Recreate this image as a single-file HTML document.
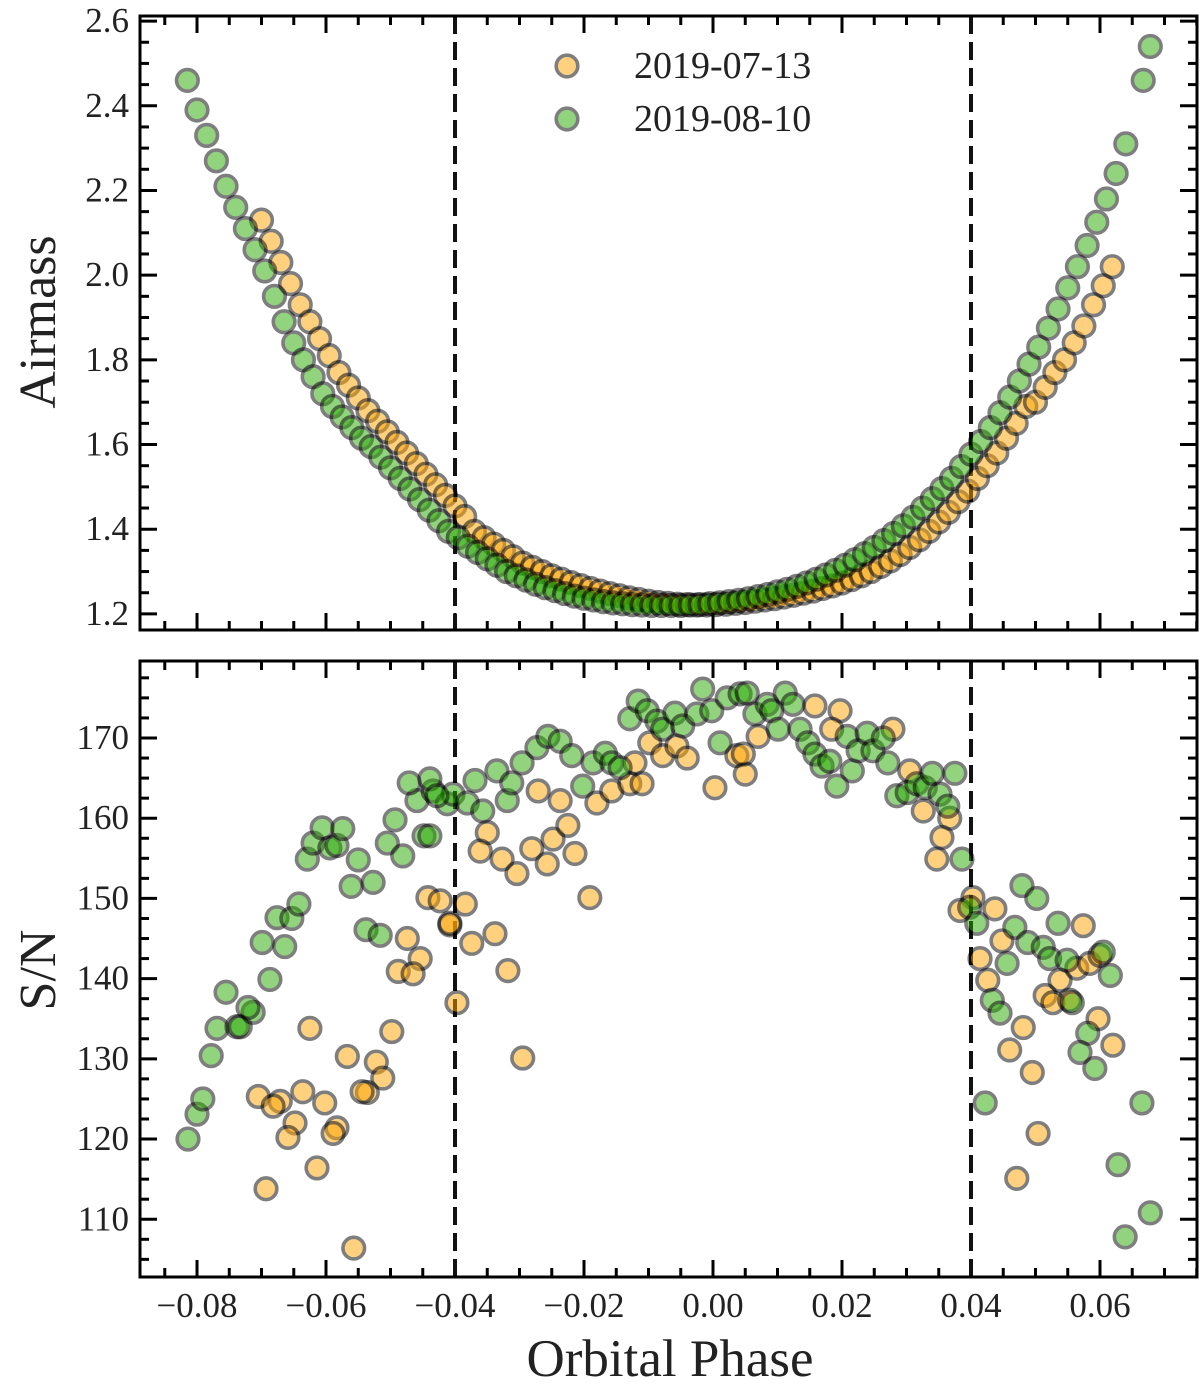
<!DOCTYPE html>
<html><head><meta charset="utf-8"><style>
html,body{margin:0;padding:0;background:#fff;}
svg{display:block;font-family:"Liberation Serif",serif;}
</style></head><body>
<svg id="chart" width="1200" height="1392" viewBox="0 0 1200 1392" xmlns="http://www.w3.org/2000/svg"></svg>
<script>
// ---------- data ----------
const greenAirPhase = [-0.0815,-0.0800,-0.0785,-0.0770,-0.0755,-0.0740,-0.0725,-0.0710,-0.0695,-0.0680,-0.0665,-0.0650,-0.0635,-0.0620,-0.0605,-0.0590,-0.0575,-0.0560,-0.0545,-0.0530,-0.0515,-0.0500,-0.0485,-0.0470,-0.0455,-0.0440,-0.0425,-0.0410,-0.0395,-0.0380,-0.0365,-0.0350,-0.0335,-0.0320,-0.0305,-0.0290,-0.0275,-0.0260,-0.0245,-0.0230,-0.0215,-0.0200,-0.0185,-0.0170,-0.0155,-0.0140,-0.0125,-0.0110,-0.0095,-0.0080,-0.0065,-0.0050,-0.0035,-0.0020,-0.0005,0.0010,0.0025,0.0040,0.0055,0.0070,0.0085,0.0100,0.0115,0.0130,0.0145,0.0160,0.0175,0.0190,0.0205,0.0220,0.0235,0.0250,0.0265,0.0280,0.0295,0.0310,0.0325,0.0340,0.0355,0.0370,0.0385,0.0400,0.0415,0.0430,0.0445,0.0460,0.0475,0.0490,0.0505,0.0520,0.0535,0.0550,0.0565,0.0580,0.0595,0.0610,0.0625,0.0640,0.0667,0.0678];
const greenAirmass = [2.46,2.39,2.33,2.27,2.21,2.16,2.11,2.06,2.01,1.95,1.89,1.84,1.80,1.76,1.72,1.69,1.665,1.64,1.615,1.595,1.57,1.545,1.52,1.495,1.47,1.445,1.42,1.395,1.38,1.36,1.345,1.33,1.315,1.30,1.29,1.28,1.27,1.262,1.255,1.248,1.242,1.237,1.233,1.229,1.226,1.224,1.222,1.221,1.22,1.22,1.22,1.22,1.221,1.222,1.224,1.226,1.229,1.232,1.236,1.241,1.246,1.252,1.258,1.265,1.273,1.282,1.292,1.303,1.315,1.328,1.342,1.357,1.373,1.39,1.408,1.428,1.45,1.472,1.496,1.52,1.548,1.577,1.607,1.64,1.675,1.712,1.75,1.79,1.83,1.875,1.92,1.97,2.02,2.07,2.125,2.18,2.24,2.31,2.46,2.54];
const orangeAirPhase = [-0.0700,-0.0685,-0.0670,-0.0655,-0.0640,-0.0625,-0.0610,-0.0595,-0.0580,-0.0565,-0.0550,-0.0535,-0.0520,-0.0505,-0.0490,-0.0475,-0.0460,-0.0445,-0.0430,-0.0415,-0.0400,-0.0385,-0.0370,-0.0355,-0.0340,-0.0325,-0.0310,-0.0295,-0.0280,-0.0265,-0.0250,-0.0235,-0.0220,-0.0205,-0.0190,-0.0175,-0.0160,-0.0145,-0.0130,-0.0115,-0.0100,-0.0085,-0.0070,-0.0055,-0.0040,-0.0025,-0.0010,0.0005,0.0020,0.0035,0.0050,0.0065,0.0080,0.0095,0.0110,0.0125,0.0140,0.0155,0.0170,0.0185,0.0200,0.0215,0.0230,0.0245,0.0260,0.0275,0.0290,0.0305,0.0320,0.0335,0.0350,0.0365,0.0380,0.0395,0.0410,0.0425,0.0440,0.0455,0.0470,0.0485,0.0500,0.0515,0.0530,0.0545,0.0560,0.0575,0.0590,0.0605,0.0619];
const orangeAirmass = [2.13,2.08,2.03,1.98,1.93,1.89,1.85,1.81,1.77,1.74,1.71,1.68,1.655,1.63,1.605,1.58,1.555,1.53,1.505,1.48,1.455,1.43,1.395,1.38,1.365,1.35,1.335,1.32,1.31,1.30,1.29,1.282,1.274,1.267,1.26,1.254,1.248,1.243,1.238,1.234,1.23,1.227,1.225,1.223,1.222,1.221,1.221,1.222,1.223,1.225,1.227,1.23,1.233,1.236,1.24,1.244,1.249,1.254,1.26,1.266,1.273,1.281,1.29,1.30,1.312,1.325,1.34,1.357,1.375,1.395,1.417,1.44,1.465,1.49,1.52,1.55,1.58,1.615,1.65,1.69,1.70,1.735,1.77,1.80,1.84,1.88,1.93,1.975,2.02];

const orangeSnPhase = [-0.0625,-0.0567,-0.0522,-0.0512,-0.0536,-0.0544,-0.0498,-0.0705,-0.0671,-0.0682,-0.0636,-0.0602,-0.0648,-0.0659,-0.0583,-0.0589,-0.0614,-0.0693,-0.0557,-0.0474,-0.0454,-0.0488,-0.0465,-0.0442,-0.0423,-0.0408,-0.0397,-0.0384,-0.0350,-0.0361,-0.0327,-0.0304,-0.0281,-0.0257,-0.0248,-0.0225,-0.0214,-0.0271,-0.0237,-0.0180,-0.0157,-0.0129,-0.0110,-0.0121,-0.0098,-0.0078,-0.0056,-0.0040,0.0003,0.0037,0.0050,-0.0191,-0.0408,-0.0374,-0.0338,-0.0318,-0.0295,0.0070,0.0047,0.0158,0.0197,0.0184,0.0279,0.0305,0.0326,0.0367,0.0355,0.0347,0.0403,0.0383,0.0437,0.0448,0.0574,0.0414,0.0426,0.0538,0.0564,0.0584,0.0515,0.0527,0.0553,0.0597,0.0481,0.0620,0.0460,0.0495,0.0504,0.0471,0.0600];
const orangeSn = [133.8,130.3,129.6,127.6,125.8,125.9,133.4,125.3,124.7,124.1,125.9,124.5,122.0,120.2,121.4,120.7,116.4,113.8,106.4,145.0,142.5,140.9,140.6,150.1,149.7,146.7,137.0,149.3,158.2,155.9,154.9,153.1,156.2,154.3,157.4,159.1,155.6,163.4,162.2,161.9,163.4,164.3,164.3,166.9,169.4,167.8,169.0,167.5,163.8,167.8,165.5,150.1,146.9,144.4,145.6,141.0,130.1,170.2,168.0,174.0,173.4,171.1,171.1,165.9,160.9,160.0,157.6,154.9,150.1,148.5,148.7,144.7,146.6,142.5,139.8,139.8,141.3,141.9,137.9,137.0,137.3,135.0,133.9,131.7,131.1,128.3,120.7,115.1,142.9];

const greenSnPhase = [-0.0814,-0.0800,-0.0791,-0.0778,-0.0769,-0.0738,-0.0733,-0.0713,-0.0721,-0.0755,-0.0687,-0.0699,-0.0664,-0.0676,-0.0653,-0.0642,-0.0629,-0.0620,-0.0606,-0.0594,-0.0583,-0.0574,-0.0550,-0.0561,-0.0527,-0.0538,-0.0516,-0.0493,-0.0505,-0.0481,-0.0448,-0.0459,-0.0471,-0.0434,-0.0412,-0.0403,-0.0439,-0.0428,-0.0381,-0.0357,-0.0369,-0.0335,-0.0319,-0.0312,-0.0296,-0.0273,-0.0256,-0.0237,-0.0219,-0.0202,-0.0186,-0.0167,-0.0157,-0.0144,-0.0129,-0.0116,-0.0102,-0.0087,-0.0078,-0.0059,-0.0047,-0.0025,-0.0016,-0.0002,0.0011,0.0022,0.0042,-0.0439,0.0053,0.0065,0.0084,0.0091,0.0112,0.0124,0.0101,0.0135,0.0147,0.0158,0.0169,0.0181,0.0192,0.0216,0.0208,0.0225,0.0239,0.0248,0.0264,0.0271,0.0285,0.0301,0.0316,0.0329,0.0340,0.0352,0.0364,0.0375,0.0386,0.0398,0.0409,0.0479,0.0502,0.0468,0.0488,0.0512,0.0522,0.0535,0.0549,0.0605,0.0616,0.0456,0.0433,0.0445,0.0557,0.0581,0.0569,0.0592,0.0422,0.0665,0.0628,0.0678,0.0639];
const greenSn = [120.0,123.1,125.0,130.4,133.8,134.0,134.0,135.8,136.4,138.3,139.9,144.5,144.0,147.6,147.5,149.3,154.9,156.9,158.8,156.3,156.6,158.7,154.8,151.5,152.0,146.1,145.4,159.8,156.9,155.3,157.8,162.2,164.4,163.4,161.8,163.0,164.9,162.8,161.9,160.9,164.7,165.9,162.2,164.4,166.9,168.8,170.2,169.6,167.8,164.0,166.9,168.1,166.9,166.3,172.4,174.6,173.4,172.1,171.1,173.1,171.5,173.0,176.1,173.4,169.4,175.0,175.5,157.8,175.6,173.0,174.2,173.4,175.6,174.2,171.1,171.1,169.4,168.0,166.5,167.1,164.0,165.9,170.2,168.4,170.6,168.4,170.0,166.9,162.8,163.2,164.3,163.8,165.6,163.0,161.5,165.6,154.9,148.9,146.9,151.6,150.0,146.4,144.5,143.9,142.5,146.9,142.3,143.3,140.4,141.9,137.3,135.7,137.0,133.2,130.8,128.8,124.5,124.5,116.8,110.8,107.8];

const xTickValues = [-0.08,-0.06,-0.04,-0.02,0.00,0.02,0.04,0.06];
const xTickLabels = ["\u22120.08","\u22120.06","\u22120.04","\u22120.02","0.00","0.02","0.04","0.06"];
const airTickValues = [1.2,1.4,1.6,1.8,2.0,2.2,2.4,2.6];
const airTickLabels = ["1.2","1.4","1.6","1.8","2.0","2.2","2.4","2.6"];
const snTickValues = [110,120,130,140,150,160,170];
const snTickLabels = ["110","120","130","140","150","160","170"];
const dashedPhases = [-0.04,0.04];
const legendLabels = ["2019-07-13","2019-08-10"];

// ---------- layout ----------
const L=140, R=1197;
const T1=16, B1=630, T2=661, B2=1277;
const xMin=-0.08884, xMax=0.07504;
const aMin=1.162, aMax=2.612;
const sMin=102.8, sMax=179.6;
const X = v => L + (v-xMin)/(xMax-xMin)*(R-L);
const YA = v => B1 - (v-aMin)/(aMax-aMin)*(B1-T1);
const YS = v => B2 - (v-sMin)/(sMax-sMin)*(B2-T2);
const NS="http://www.w3.org/2000/svg";
const svg=document.getElementById('chart');
function mk(tag, attrs, parent){const e=document.createElementNS(NS,tag);for(const k in attrs)e.setAttribute(k,attrs[k]);(parent||svg).appendChild(e);return e;}
const ORANGE="rgb(255,165,0)", GREEN="rgb(40,170,0)";

function dot(g,x,y,color){
  return mk('circle',{cx:x,cy:y,r:10.8,fill:color,stroke:'#000','stroke-width':3.6,opacity:0.5},g);
}

function panel(top,bottom,yfn,yMinV,yMaxV,majorVals,majorLabels,minorStep,name){
  const g=mk('g',{});
  
  
  for(let k=-17;k<=15;k++){
    const v=k*0.005; const x=X(v);
    if(x<L||x>R) continue;
    const major = (k%4===0);
    const len = major?17:9;
    const t1=mk('line',{x1:x,x2:x,y1:bottom,y2:bottom-len,stroke:'#000','stroke-width':3},g);
    
    
    const t2=mk('line',{x1:x,x2:x,y1:top,y2:top+len,stroke:'#000','stroke-width':3},g);
    
    
  }
  const start=Math.ceil(yMinV/minorStep-1e-6), end=Math.floor(yMaxV/minorStep+1e-6);
  for(let k=start;k<=end;k++){
    const v=k*minorStep; const y=yfn(v);
    const major = majorVals.some(m=>Math.abs(m-v)<1e-6);
    const len = major?17:9;
    const t1=mk('line',{x1:L,x2:L+len,y1:y,y2:y,stroke:'#000','stroke-width':3},g);
    
    
    const t2=mk('line',{x1:R,x2:R-len,y1:y,y2:y,stroke:'#000','stroke-width':3},g);
    
    
  }
  majorVals.forEach((v,i)=>{
    const t=mk('text',{x:L-11,y:yfn(v)+11,'text-anchor':'end','font-size':35,fill:'#222'},g);
    t.textContent=majorLabels[i];
    
    
  });
  dashedPhases.forEach(p=>{
    const d=mk('line',{x1:X(p),x2:X(p),y1:top,y2:bottom,stroke:'#111','stroke-width':4,'stroke-dasharray':'18,8'},g);
    
    
  });
  return g;
}

// top panel
panel(T1,B1,YA,aMin,aMax,airTickValues,airTickLabels,0.05,'airmass');
const gA=mk('g',{});


orangeAirPhase.forEach((p,i)=>{
  const c=dot(gA,X(p),YA(orangeAirmass[i]),ORANGE);
  
  
});
greenAirPhase.forEach((p,i)=>{
  const c=dot(gA,X(p),YA(greenAirmass[i]),GREEN);
  
  
});
const f1=mk('rect',{x:L,y:T1,width:R-L,height:B1-T1,fill:'none',stroke:'#000','stroke-width':3});



// legend
const lg=mk('g',{});


[[ORANGE,66],[GREEN,119]].forEach((c,i)=>{
  const d=dot(lg,567,c[1],c[0]);
  
  
  const t=mk('text',{x:634,y:c[1]+12,'font-size':38,fill:'#222'},lg);
  t.textContent=legendLabels[i];
  
  
});

// bottom panel
panel(T2,B2,YS,sMin,sMax,snTickValues,snTickLabels,2.5,'snr');
const gS=mk('g',{});


orangeSnPhase.forEach((p,i)=>{
  const c=dot(gS,X(p),YS(orangeSn[i]),ORANGE);
  
  
});
greenSnPhase.forEach((p,i)=>{
  const c=dot(gS,X(p),YS(greenSn[i]),GREEN);
  
  
});
const f2=mk('rect',{x:L,y:T2,width:R-L,height:B2-T2,fill:'none',stroke:'#000','stroke-width':3});



// x tick labels
xTickValues.forEach((v,i)=>{
  const t=mk('text',{x:X(v),y:1317,'text-anchor':'middle','font-size':35,fill:'#222'});
  t.textContent=xTickLabels[i];
  
  
});
const xt=mk('text',{x:670,y:1376,'text-anchor':'middle','font-size':53,fill:'#222'});
xt.textContent='Orbital Phase';


const ya=mk('text',{x:0,y:0,'text-anchor':'middle','font-size':52,fill:'#222',transform:'translate(55,322) rotate(-90)'});
ya.textContent='Airmass';


const ys=mk('text',{x:0,y:0,'text-anchor':'middle','font-size':52,fill:'#222',transform:'translate(55,970) rotate(-90)'});
ys.textContent='S/N';


</script>
</body></html>
